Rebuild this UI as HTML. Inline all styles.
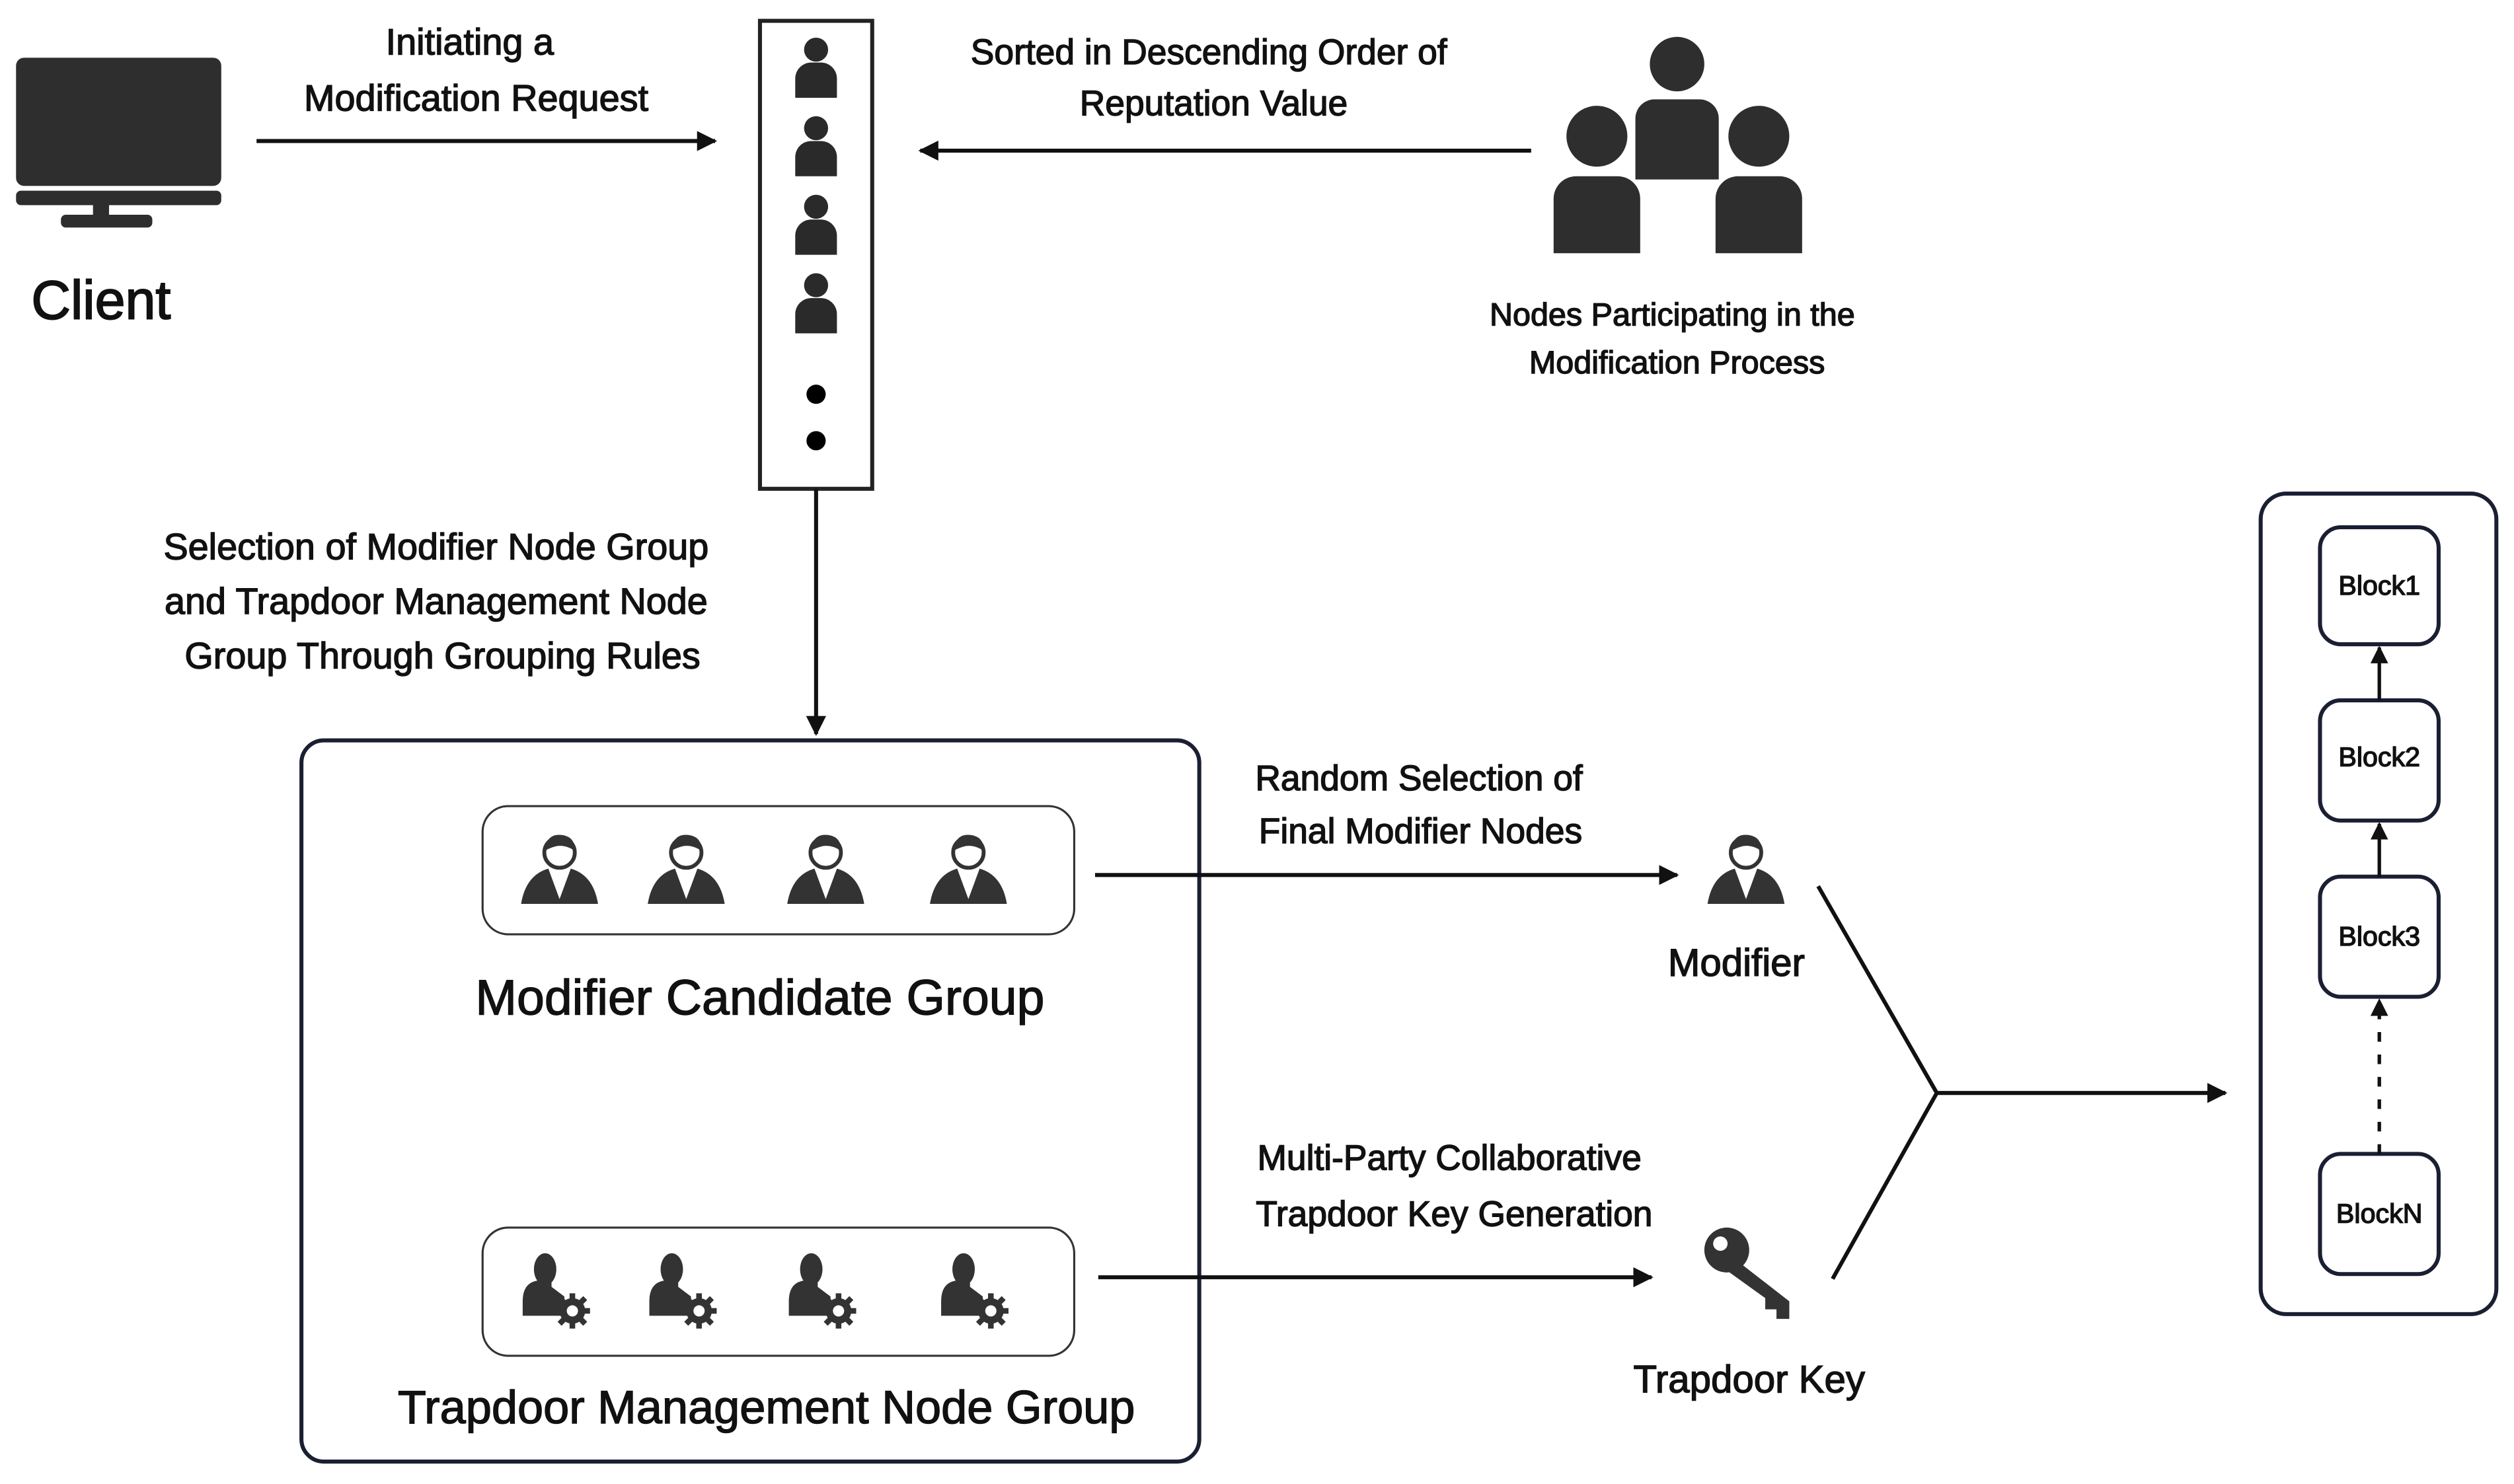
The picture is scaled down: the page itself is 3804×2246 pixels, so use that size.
<!DOCTYPE html>
<html><head><meta charset="utf-8"><style>
html,body{margin:0;padding:0;background:#fff;}
svg{display:block;}
text{font-family:"Liberation Sans","DejaVu Sans",sans-serif;fill:#111;stroke:#111;stroke-width:0.6;text-anchor:middle;}
</style></head><body>
<svg width="3804" height="2246" viewBox="0 0 1568 926" preserveAspectRatio="none" xmlns="http://www.w3.org/2000/svg">
<defs>
<marker id="ah" viewBox="0 0 10 10" refX="9" refY="5" markerWidth="5" markerHeight="5" orient="auto-start-reverse"><path d="M0,0 L10,5 L0,10 z" fill="#111"/></marker>
<g id="p1"><circle cx="0" cy="-13" r="7.5" fill="#2a2a2a"/><path d="M-13,17 v-12 a10,10 0 0 1 10,-10 h6 a10,10 0 0 1 10,10 v12z" fill="#2a2a2a"/></g>
<g id="biz"><path d="M-24,17 Q-21,-1 -7,-5 L0,14 L7,-5 Q21,-1 24,17 z" fill="#333"/><path d="M-2,-4 L0,11 L2,-4z" fill="#fff"/><circle cx="0" cy="-15" r="9.5" fill="#fff" stroke="#333" stroke-width="2.4"/><path d="M-9.5,-16 Q-8,-27 1,-26 Q10,-25 9.5,-16 Q4,-20 -2,-19 Q-6,-18 -9.5,-16z" fill="#333"/></g>
<g id="mgr"><ellipse cx="-2" cy="-13" rx="7" ry="10" fill="#333"/><path d="M-6,-6 h8 v4 l8,6 v12 h-26 v-9 q0,-12 10,-13z" fill="#333"/><circle cx="15" cy="13" r="8" fill="#333"/><g stroke="#333" stroke-width="3.5"><line x1="15" y1="2" x2="15" y2="24"/><line x1="4" y1="13" x2="26" y2="13"/><line x1="7" y1="5" x2="23" y2="21"/><line x1="23" y1="5" x2="7" y2="21"/></g><circle cx="15" cy="13" r="3.5" fill="#fff"/></g>
</defs>

<rect x="10" y="36" width="128" height="80" rx="5" fill="#2e2e2e"/>
<rect x="10" y="119" width="128" height="9" rx="3" fill="#2e2e2e"/>
<rect x="58" y="127" width="10" height="8" fill="#2e2e2e"/>
<rect x="38" y="134" width="57" height="8" rx="3" fill="#2e2e2e"/>
<text x="63" y="199" font-size="34" style="stroke-width:0.8">Client</text>

<text x="293" y="34" font-size="23">Initiating a</text>
<text x="297" y="69" font-size="23">Modification Request</text>
<line x1="160" y1="88" x2="446" y2="88" stroke="#111" stroke-width="2.5" marker-end="url(#ah)"/>

<rect x="474" y="13" width="70" height="292" fill="#fff" stroke="#222" stroke-width="2.5"/>
<use href="#p1" x="509" y="44"/>
<use href="#p1" x="509" y="93"/>
<use href="#p1" x="509" y="142"/>
<use href="#p1" x="509" y="191"/>
<circle cx="509" cy="246" r="6" fill="#000"/>
<circle cx="509" cy="275" r="6" fill="#000"/>

<text x="754" y="40" font-size="22">Sorted in Descending Order of</text>
<text x="757" y="72" font-size="22">Reputation Value</text>
<line x1="955" y1="94" x2="574" y2="94" stroke="#111" stroke-width="2.5" marker-end="url(#ah)"/>

<g fill="#2e2e2e">
<circle cx="1046" cy="40" r="17"/>
<path d="M1020,112 v-38 a12,12 0 0 1 12,-12 h28 a12,12 0 0 1 12,12 v38z"/>
<circle cx="996" cy="85" r="19"/>
<path d="M969,158 v-34 a14,14 0 0 1 14,-14 h26 a14,14 0 0 1 14,14 v34z"/>
<circle cx="1097" cy="85" r="19"/>
<path d="M1070,158 v-34 a14,14 0 0 1 14,-14 h26 a14,14 0 0 1 14,14 v34z"/>
</g>
<text x="1043" y="203" font-size="20">Nodes Participating in the</text>
<text x="1046" y="233" font-size="20">Modification Process</text>

<line x1="509" y1="305" x2="509" y2="458" stroke="#111" stroke-width="2.5" marker-end="url(#ah)"/>
<text x="272" y="349" font-size="23">Selection of Modifier Node Group</text>
<text x="272" y="383" font-size="23">and Trapdoor Management Node</text>
<text x="276" y="417" font-size="23">Group Through Grouping Rules</text>

<rect x="188" y="462" width="560" height="450" rx="14" fill="none" stroke="#1a1f33" stroke-width="2.5"/>
<rect x="301" y="503" width="369" height="80" rx="16" fill="none" stroke="#333" stroke-width="1.3"/>
<use href="#biz" x="349" y="547"/>
<use href="#biz" x="428" y="547"/>
<use href="#biz" x="515" y="547"/>
<use href="#biz" x="604" y="547"/>
<text x="474" y="633" font-size="31">Modifier Candidate Group</text>
<rect x="301" y="766" width="369" height="80" rx="16" fill="none" stroke="#333" stroke-width="1.3"/>
<use href="#mgr" x="342" y="805"/>
<use href="#mgr" x="421" y="805"/>
<use href="#mgr" x="508" y="805"/>
<use href="#mgr" x="603" y="805"/>
<text x="478" y="888" font-size="29">Trapdoor Management Node Group</text>

<text x="885" y="493" font-size="22">Random Selection of</text>
<text x="886" y="526" font-size="22">Final Modifier Nodes</text>
<line x1="683" y1="546" x2="1046" y2="546" stroke="#111" stroke-width="2.5" marker-end="url(#ah)"/>
<use href="#biz" x="1089" y="547"/>
<text x="1083" y="609" font-size="24">Modifier</text>

<text x="904" y="730" font-size="22">Multi-Party Collaborative</text>
<text x="907" y="765" font-size="22">Trapdoor Key Generation</text>
<line x1="685" y1="797" x2="1030" y2="797" stroke="#111" stroke-width="2.5" marker-end="url(#ah)"/>
<g fill="#333">
<circle cx="1077" cy="780" r="14"/>
<path d="M1080,784 L1116,812 L1116,823 L1108,823 L1108,817 L1101,817 L1101,810 L1076,792 z"/>
</g>
<circle cx="1073" cy="776" r="4.5" fill="#fff"/>
<text x="1091" y="869" font-size="24">Trapdoor Key</text>

<polyline points="1134,553 1208,682 1143,798" fill="none" stroke="#111" stroke-width="2.5"/>
<line x1="1208" y1="682" x2="1388" y2="682" stroke="#111" stroke-width="2.5" marker-end="url(#ah)"/>

<rect x="1410" y="308" width="147" height="512" rx="16" fill="none" stroke="#1a1f33" stroke-width="2.5"/>
<g fill="none" stroke="#1a1f33" stroke-width="2.5">
<rect x="1447" y="329" width="74" height="73" rx="13"/>
<rect x="1447" y="437" width="74" height="75" rx="13"/>
<rect x="1447" y="547" width="74" height="75" rx="13"/>
<rect x="1447" y="720" width="74" height="75" rx="13"/>
</g>
<g font-size="17" style="stroke-width:0.35">
<text x="1484" y="371">Block1</text>
<text x="1484" y="478">Block2</text>
<text x="1484" y="590">Block3</text>
<text x="1484" y="763">BlockN</text>
</g>
<line x1="1484" y1="437" x2="1484" y2="404" stroke="#111" stroke-width="2.2" marker-end="url(#ah)"/>
<line x1="1484" y1="547" x2="1484" y2="514" stroke="#111" stroke-width="2.2" marker-end="url(#ah)"/>
<line x1="1484" y1="720" x2="1484" y2="624" stroke="#111" stroke-width="2.2" stroke-dasharray="6,8" marker-end="url(#ah)"/>
</svg>
</body></html>
